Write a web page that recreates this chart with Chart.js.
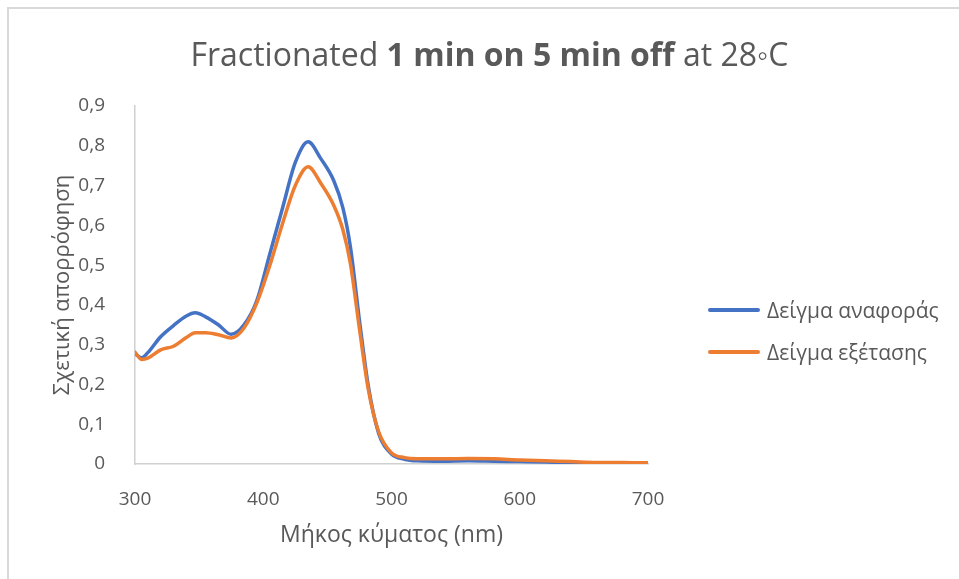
<!DOCTYPE html>
<html>
<head>
<meta charset="utf-8">
<script src="https://cdn.jsdelivr.net/npm/chart.js@4"></script>
<style>
  html, body { margin: 0; padding: 0; background: #fff; }
  #wrap { position: relative; width: 959px; height: 579px; overflow: hidden; font-family: "Open Sans", sans-serif; color: #595959; }
  #frame { position: absolute; left: 7px; top: 7px; right: -10px; bottom: -10px; border-left: 2px solid #d9d9d9; border-top: 2px solid #d9d9d9; pointer-events: none; }
  #titlos { position: absolute; left: 20px; width: 939px; top: 34px; text-align: center; font-size: 32px; line-height: 40px; }
  #titlos b { font-weight: 700; }
  #ypomnima { position: absolute; left: 708px; top: 294px; font-size: 21px; }
  .item { display: flex; align-items: center; height: 32px; margin-bottom: 10px; }
  .grammi { width: 52px; height: 3.5px; border-radius: 2px; margin-right: 7px; }
  canvas { position: absolute; left: 0; top: 0; }
</style>
</head>
<body>
<div id="wrap">
  <canvas id="grafima" width="959" height="579"></canvas>
  <div id="frame"></div>
  <div id="titlos">Fractionated <b>1 min on 5 min off</b> at 28◦C</div>
  <div id="ypomnima"></div>
</div>
<script>
// μήκη κύματος (nm)
const mhkh = [300, 305, 310, 320, 330, 340, 347, 355, 365, 375, 385, 395, 405, 415, 425, 435, 445, 455, 462, 468, 475, 482, 490, 500, 510, 520, 540, 560, 580, 600, 620, 640, 660, 680, 700];

// Δείγμα αναφοράς
const anaforas = [0.278, 0.267, 0.280, 0.320, 0.348, 0.372, 0.380, 0.370, 0.350, 0.326, 0.350, 0.411, 0.527, 0.643, 0.758, 0.810, 0.767, 0.712, 0.645, 0.545, 0.361, 0.194, 0.077, 0.025, 0.012, 0.008, 0.007, 0.008, 0.007, 0.006, 0.005, 0.003, 0.002, 0.001, 0.001];

// Δείγμα εξέτασης
const exetasis = [0.281, 0.263, 0.266, 0.287, 0.296, 0.318, 0.330, 0.330, 0.325, 0.317, 0.342, 0.405, 0.498, 0.604, 0.700, 0.747, 0.705, 0.650, 0.590, 0.503, 0.340, 0.186, 0.081, 0.028, 0.016, 0.013, 0.013, 0.014, 0.013, 0.010, 0.008, 0.006, 0.004, 0.004, 0.003];

const etiketes = ['Δείγμα αναφοράς', 'Δείγμα εξέτασης'];
const xrwmata = ['#4472C4', '#ED7D31'];

const pontoi = arr => arr.map((v, i) => ({ x: mhkh[i], y: v }));

const grammata = { family: '"Open Sans", sans-serif' };

const grafima = new Chart(document.getElementById('grafima'), {
    type: 'line',
    data: {
        datasets: [
            { label: etiketes[0], data: pontoi(anaforas), borderColor: xrwmata[0], backgroundColor: xrwmata[0], order: 2 },
            { label: etiketes[1], data: pontoi(exetasis), borderColor: xrwmata[1], backgroundColor: xrwmata[1], order: 1 }
        ]
    },
    options: {
        responsive: false,
        animation: false,
        elements: {
            line: { borderWidth: 3.5, cubicInterpolationMode: 'monotone', borderCapStyle: 'round' },
            point: { radius: 0 }
        },
        layout: { padding: { left: 46, right: 311, top: 106, bottom: 26 } },
        plugins: {
            legend: { display: false },
            title: { display: false },
            tooltip: { enabled: false }
        },
        scales: {
            x: {
                type: 'linear',
                min: 300,
                max: 700,
                grid: { display: false },
                border: { display: true, color: '#d0d0d0', width: 1.5 },
                ticks: { stepSize: 100, padding: 16, color: '#595959', font: { ...grammata, size: 19 } },
                title: { display: true, text: 'Μήκος κύματος (nm)', color: '#595959', font: { ...grammata, size: 23 } },
                afterFit: s => { s.height = 89; }
            },
            y: {
                min: 0,
                max: 0.9,
                grid: { display: false },
                border: { display: true, color: '#d0d0d0', width: 1.5 },
                ticks: {
                    stepSize: 0.1,
                    padding: 22,
                    color: '#595959',
                    font: { ...grammata, size: 19 },
                    callback: v => v === 0 ? '0' : v.toFixed(1).replace('.', ',')
                },
                title: { display: true, text: 'Σχετική απορρόφηση', color: '#595959', font: { ...grammata, size: 22 } },
                afterFit: s => { s.width = 89; }
            }
        }
    }
});

// υπόμνημα σε HTML
const ypomnima = document.getElementById('ypomnima');
grafima.data.datasets.forEach(ds => {
    const d = document.createElement('div');
    d.className = 'item';
    d.innerHTML = `<span class="grammi" style="background:${ds.borderColor}"></span><span>${ds.label}</span>`;
    ypomnima.appendChild(d);
});
</script>
</body>
</html>
